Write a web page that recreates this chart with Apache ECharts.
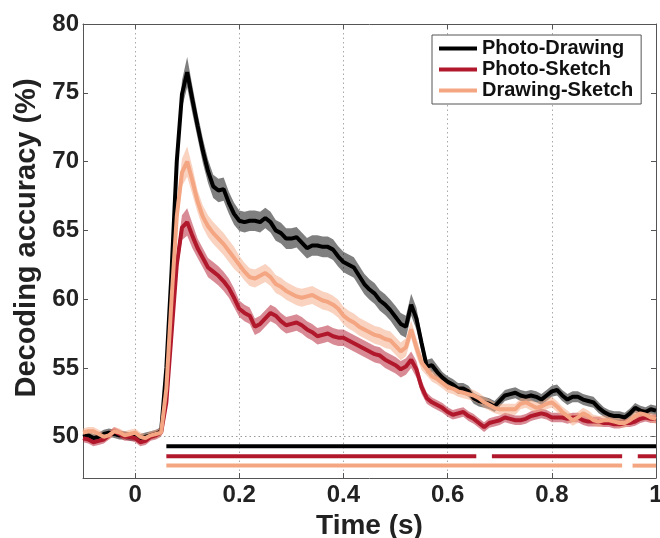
<!DOCTYPE html>
<html lang="en">
<head>
    <meta charset="utf-8">
    <title>Decoding accuracy</title>
    <script src="https://cdn.jsdelivr.net/npm/echarts@6/dist/echarts.min.js"></script>
    <style>
        html, body, #main {
            width: 100%;
            height: 100%;
            margin: 0;
            padding: 0;
            overflow: hidden;
            background-color: #ffffff;
        }
    </style>
</head>
<body>
<div id="main" style="width: 660px;height:538px;"></div>
<script>
    // values, one sample every 10 ms from -0.1 s to 1.0 s
    var photoDrawing = [
        50.0, 50.1, 49.9, 50.0, 50.2, 50.3, 50.2, 50.1, 50.1, 50.0,
        50.0, 49.9, 50.0, 50.1, 50.2, 50.4, 55.0, 62.0, 70.0, 74.9,
        76.5, 74.5, 72.6, 70.8, 69.3, 68.2, 67.9, 68.0, 67.0, 66.2,
        65.7, 65.6, 65.7, 65.7, 65.6, 65.9, 65.6, 65.0, 64.8, 64.4,
        64.4, 64.5, 64.1, 63.7, 63.9, 63.9, 63.8, 63.8, 63.6, 63.1,
        62.7, 62.5, 62.3, 61.7, 61.1, 60.7, 60.4, 59.9, 59.6, 59.2,
        58.7, 58.2, 58.0, 59.6, 58.6, 56.8, 55.1, 55.2, 54.7, 54.3,
        54.0, 53.8, 53.5, 53.5, 53.3, 52.8, 52.6, 52.5, 52.4, 52.2,
        52.6, 53.0, 53.1, 53.2, 53.0, 52.9, 53.0, 52.9, 52.7, 53.0,
        53.3, 53.4, 53.0, 52.7, 52.9, 52.9, 52.7, 52.6, 52.5, 52.1,
        51.8, 51.6, 51.5, 51.5, 51.4, 51.7, 52.1, 51.9, 51.8, 52.0, 51.9
    ];
    var photoSketch = [
        49.9, 49.8, 49.6, 49.7, 49.8, 50.1, 50.4, 50.2, 50.0, 50.0,
        49.9, 49.6, 49.7, 50.0, 50.1, 50.3, 52.5, 57.5, 62.5, 65.2,
        65.6, 64.6, 63.7, 63.0, 62.3, 62.0, 61.7, 61.3, 60.8, 60.1,
        59.3, 59.0, 58.8, 58.0, 58.2, 58.6, 59.0, 58.8, 58.4, 58.1,
        58.2, 58.3, 58.1, 57.8, 57.6, 57.3, 57.4, 57.5, 57.3, 57.2,
        57.2, 57.0, 56.8, 56.6, 56.4, 56.2, 56.0, 55.9, 55.6, 55.4,
        55.2, 54.9, 55.1, 55.6, 54.9, 53.6, 52.8, 52.5, 52.3, 52.1,
        51.8, 51.6, 51.7, 51.8, 51.5, 51.3, 51.0, 50.7, 51.0, 51.1,
        51.2, 51.4, 51.3, 51.2, 51.2, 51.3, 51.5, 51.6, 51.7, 51.6,
        51.4, 51.4, 51.4, 51.3, 51.4, 51.4, 51.2, 51.1, 51.1, 51.1,
        51.0, 51.0, 50.9, 50.9, 51.0, 51.0, 51.1, 51.3, 51.4, 51.3, 51.3
    ];
    var drawingSketch = [
        50.3, 50.4, 50.4, 50.2, 50.0, 50.1, 50.4, 50.3, 50.1, 50.2,
        50.3, 50.0, 49.9, 50.1, 50.2, 50.3, 53.5, 60.0, 66.0, 69.2,
        70.0, 68.6, 67.1, 66.0, 65.3, 64.8, 64.4, 64.0, 63.5, 63.0,
        62.5, 62.0, 61.6, 61.5, 61.7, 61.9, 61.6, 61.1, 60.9, 60.6,
        60.4, 60.2, 60.1, 60.2, 60.3, 60.1, 59.9, 59.8, 59.6, 59.3,
        58.8, 58.5, 58.3, 58.0, 57.8, 57.6, 57.4, 57.3, 57.1, 57.0,
        56.6, 56.2, 56.5, 57.8, 56.5, 55.4, 54.9, 54.4, 54.2, 53.9,
        53.6, 53.5, 53.3, 53.2, 53.1, 53.0, 52.8, 52.5, 52.3, 52.1,
        52.0, 52.0, 52.0, 52.0, 52.4, 52.5, 52.3, 52.1, 52.2, 52.4,
        52.5, 52.2, 51.8, 51.5, 51.2, 51.4, 51.7, 51.5, 51.2, 51.1,
        51.2, 51.2, 51.1, 51.0, 51.0, 51.2, 51.5, 51.7, 51.6, 51.4, 51.3
    ];

    // standard error (shaded band half-width)
    var semPhotoDrawing = [
        0.3, 0.3, 0.3, 0.3, 0.3, 0.3, 0.3, 0.3, 0.3, 0.3,
        0.3, 0.3, 0.3, 0.3, 0.3, 0.3, 0.5, 0.7, 0.9, 1.0,
        1.1, 1.0, 0.9, 0.9, 0.85, 0.85, 0.85, 0.85, 0.8, 0.8,
        0.75, 0.75, 0.75, 0.75, 0.75, 0.75, 0.75, 0.75, 0.75, 0.75,
        0.75, 0.75, 0.75, 0.75, 0.75, 0.75, 0.75, 0.75, 0.75, 0.75,
        0.75, 0.75, 0.75, 0.75, 0.75, 0.75, 0.75, 0.75, 0.75, 0.75,
        0.8, 0.8, 0.8, 0.8, 0.8, 0.6, 0.5, 0.5, 0.5, 0.4,
        0.4, 0.4, 0.4, 0.4, 0.4, 0.4, 0.4, 0.4, 0.4, 0.4,
        0.4, 0.4, 0.4, 0.4, 0.4, 0.4, 0.4, 0.4, 0.4, 0.4,
        0.4, 0.4, 0.4, 0.4, 0.4, 0.4, 0.4, 0.4, 0.4, 0.4,
        0.35, 0.35, 0.35, 0.35, 0.35, 0.35, 0.35, 0.35, 0.35, 0.35, 0.35
    ];
    var semPhotoSketch = [
        0.3, 0.3, 0.3, 0.3, 0.3, 0.3, 0.3, 0.3, 0.3, 0.3,
        0.3, 0.3, 0.3, 0.3, 0.3, 0.3, 0.5, 0.7, 0.8, 0.9,
        1.0, 0.9, 0.7, 0.7, 0.7, 0.7, 0.7, 0.7, 0.7, 0.7,
        0.6, 0.6, 0.6, 0.6, 0.6, 0.6, 0.6, 0.6, 0.6, 0.6,
        0.6, 0.6, 0.6, 0.6, 0.6, 0.6, 0.6, 0.6, 0.6, 0.6,
        0.6, 0.6, 0.6, 0.6, 0.6, 0.6, 0.6, 0.6, 0.6, 0.6,
        0.6, 0.6, 0.6, 0.6, 0.6, 0.5, 0.4, 0.35, 0.35, 0.35,
        0.35, 0.35, 0.35, 0.35, 0.35, 0.35, 0.35, 0.35, 0.35, 0.35,
        0.35, 0.35, 0.35, 0.35, 0.35, 0.35, 0.35, 0.35, 0.35, 0.35,
        0.35, 0.35, 0.35, 0.35, 0.35, 0.35, 0.35, 0.35, 0.35, 0.35,
        0.3, 0.3, 0.3, 0.3, 0.3, 0.3, 0.3, 0.3, 0.3, 0.3, 0.3
    ];
    var semDrawingSketch = [
        0.3, 0.3, 0.3, 0.3, 0.3, 0.3, 0.3, 0.3, 0.3, 0.3,
        0.3, 0.3, 0.3, 0.3, 0.3, 0.3, 0.5, 0.7, 0.9, 1.0,
        1.1, 1.0, 0.8, 0.8, 0.8, 0.8, 0.8, 0.8, 0.8, 0.8,
        0.65, 0.65, 0.65, 0.65, 0.65, 0.65, 0.65, 0.65, 0.65, 0.65,
        0.65, 0.65, 0.65, 0.65, 0.65, 0.65, 0.65, 0.65, 0.65, 0.65,
        0.65, 0.65, 0.65, 0.65, 0.65, 0.65, 0.65, 0.65, 0.65, 0.65,
        0.65, 0.65, 0.65, 0.65, 0.65, 0.55, 0.45, 0.4, 0.4, 0.4,
        0.4, 0.4, 0.4, 0.4, 0.4, 0.4, 0.4, 0.4, 0.4, 0.4,
        0.4, 0.4, 0.4, 0.4, 0.4, 0.4, 0.4, 0.4, 0.4, 0.4,
        0.4, 0.4, 0.4, 0.4, 0.4, 0.4, 0.4, 0.4, 0.4, 0.4,
        0.35, 0.35, 0.35, 0.35, 0.35, 0.35, 0.35, 0.35, 0.35, 0.35, 0.35
    ];

    // significant time windows [start, end] (s) and the level they are drawn at
    var sigPhotoDrawing = [[0.06, 1.0]];
    var sigPhotoSketch = [[0.06, 0.655], [0.685, 0.935], [0.965, 1.0]];
    var sigDrawingSketch = [[0.06, 0.935], [0.955, 1.0]];
    var sigLevels = [49.3, 48.58, 47.9];

    var xTickLabels = [0, 0.2, 0.4, 0.6, 0.8, 1];
    var yTickLabels = [50, 55, 60, 65, 70, 75, 80];

    var times = [];
    for (var i = 0; i < photoDrawing.length; i++) {
        times.push(Math.round((-0.1 + i * 0.01) * 100) / 100);
    }

    var names = ['Photo-Drawing', 'Photo-Sketch', 'Drawing-Sketch'];
    var colors = ['#000000', '#b2182b', '#f4a582'];
    var bandColors = ['rgba(0,0,0,0.5)', 'rgba(178,24,43,0.5)', 'rgba(244,165,130,0.5)'];
    var allValues = [photoDrawing, photoSketch, drawingSketch];
    var allSem = [semPhotoDrawing, semPhotoSketch, semDrawingSketch];
    var allSig = [sigPhotoDrawing, sigPhotoSketch, sigDrawingSketch];

    var font = 'Helvetica, Arial, "Liberation Sans", sans-serif';
    var series = [];

    // shaded error band as one polygon, placed through the axes with api.coord
    function bandRenderer(vals, sem, color) {
        return function (params, api) {
            var pts = [];
            for (var k = 0; k < times.length; k++) {
                pts.push(api.coord([times[k], vals[k] + sem[k]]));
            }
            for (var k2 = times.length - 1; k2 >= 0; k2--) {
                pts.push(api.coord([times[k2], vals[k2] - sem[k2]]));
            }
            return {type: 'polygon', shape: {points: pts}, style: {fill: color}};
        };
    }

    for (var s = 0; s < 3; s++) {
        series.push({
            name: 'band-' + s, type: 'custom', silent: true, z: 2,
            data: [[times[0], allValues[s][0]]],
            renderItem: bandRenderer(allValues[s], allSem[s], bandColors[s])
        });
    }

    // chance level
    series[0].markLine = {
        silent: true, symbol: 'none', label: {show: false},
        lineStyle: {color: '#999', type: [1.5, 3], width: 1},
        data: [{yAxis: 50}]
    };

    // mean lines
    for (var s2 = 0; s2 < 3; s2++) {
        var pts = [];
        for (var k2 = 0; k2 < times.length; k2++) {
            pts.push([times[k2], allValues[s2][k2]]);
        }
        series.push({
            name: names[s2], type: 'line', data: pts, symbol: 'none',
            color: colors[s2], lineStyle: {color: colors[s2], width: 4}, z: 5 + s2
        });
    }

    // significance bars
    for (var s3 = 0; s3 < 3; s3++) {
        for (var j = 0; j < allSig[s3].length; j++) {
            series.push({
                name: 'sig-' + s3 + '-' + j, type: 'line', symbol: 'none', silent: true,
                data: [[allSig[s3][j][0], sigLevels[s3]], [allSig[s3][j][1], sigLevels[s3]]],
                lineStyle: {color: colors[s3], width: 4}, z: 4
            });
        }
    }

    var axisLineStyle = {color: '#555', width: 1};

    var myChart = echarts.init(document.getElementById('main'));
    var option = {
        animation: false,
        textStyle: {fontFamily: font},
        grid: {left: 83, right: 4, top: 24, bottom: 60, containLabel: false, outerBoundsMode: 'none'},
        legend: {
            data: names,
            orient: 'vertical',
            left: 432,
            top: 35,
            padding: [3, 8, 3, 7],
            itemGap: 0,
            itemWidth: 38,
            itemHeight: 4,
            icon: 'rect',
            backgroundColor: '#fff',
            borderColor: '#555',
            borderWidth: 1,
            textStyle: {fontFamily: font, fontWeight: 'bold', fontSize: 20, lineHeight: 21, color: '#111'}
        },
        xAxis: [
            {
                type: 'value', min: -0.1, max: 1.0, interval: 0.1,
                name: 'Time (s)', nameLocation: 'middle', nameGap: 31,
                nameTextStyle: {fontFamily: font, fontWeight: 'bold', fontSize: 28, color: '#222'},
                axisLine: {show: true, onZero: false, lineStyle: axisLineStyle},
                axisTick: {show: true, inside: true, length: 5, customValues: xTickLabels, lineStyle: axisLineStyle},
                axisLabel: {
                    customValues: xTickLabels, margin: 5,
                    fontFamily: font, fontWeight: 'bold', fontSize: 24, color: '#222'
                },
                splitLine: {show: true, lineStyle: {color: '#aaa', type: [1.5, 3], width: 1}}
            },
            {
                type: 'value', position: 'top', min: -0.1, max: 1.0, interval: 0.1,
                axisLine: {show: true, onZero: false, lineStyle: axisLineStyle},
                axisTick: {show: true, inside: true, length: 5, customValues: xTickLabels, lineStyle: axisLineStyle},
                axisLabel: {show: false},
                splitLine: {show: false}
            }
        ],
        yAxis: [
            {
                type: 'value', min: 47, max: 80, interval: 1,
                name: 'Decoding accuracy (%)', nameLocation: 'middle', nameGap: 40,
                nameTextStyle: {fontFamily: font, fontWeight: 'bold', fontSize: 29, color: '#222', padding: [0, 0, 0, 26]},
                axisLine: {show: true, onZero: false, lineStyle: axisLineStyle},
                axisTick: {show: true, inside: true, length: 5, customValues: yTickLabels, lineStyle: axisLineStyle},
                axisLabel: {
                    customValues: yTickLabels, margin: 4,
                    fontFamily: font, fontWeight: 'bold', fontSize: 24, color: '#222'
                },
                splitLine: {show: false}
            },
            {
                type: 'value', position: 'right', min: 47, max: 80, interval: 1,
                axisLine: {show: true, onZero: false, lineStyle: axisLineStyle},
                axisTick: {show: true, inside: true, length: 5, customValues: yTickLabels, lineStyle: axisLineStyle},
                axisLabel: {show: false},
                splitLine: {show: false}
            }
        ],
        series: series
    };
    myChart.setOption(option);
</script>
</body>
</html>
